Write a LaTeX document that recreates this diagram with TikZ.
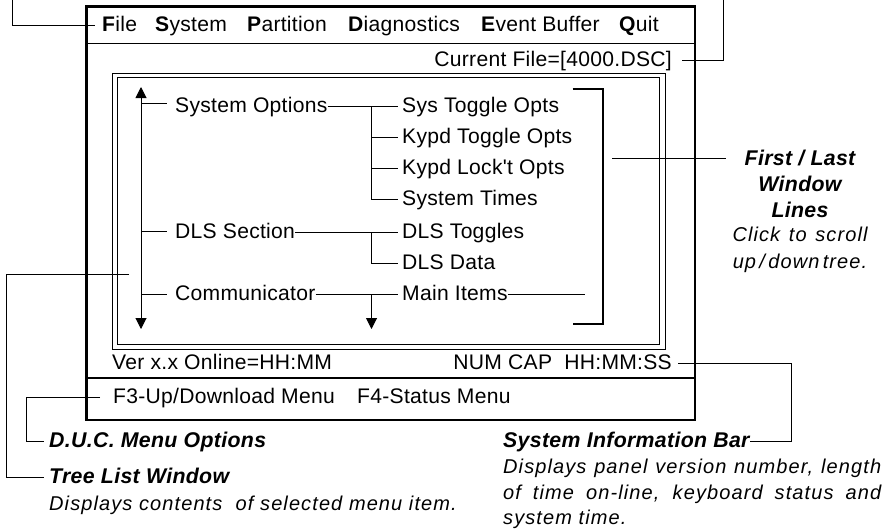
\documentclass[tikz,border=0pt]{standalone}
\usepackage{fontspec}
\usetikzlibrary{arrows.meta}
\setmainfont[LetterSpace=1.3]{Liberation Sans}
\newfontfamily\plainfont[LetterSpace=1.3]{Liberation Sans}
\newfontfamily\lblfont[LetterSpace=1.5,ItalicFont={Liberation Sans Bold Italic}]{Liberation Sans}
\newfontfamily\descfont[LetterSpace=5.5]{Liberation Sans Italic}
\tikzset{
  txt/.style={inner sep=0pt,text height=14pt,text depth=2pt,font=\fontsize{21.1}{24}\selectfont},
  lbl/.style={inner sep=0pt,text height=14pt,text depth=2pt,font=\fontsize{21.3}{24}\selectfont\lblfont\bfseries\itshape},
  desc/.style={inner sep=0pt,font=\fontsize{20}{25.5}\selectfont\descfont},
  conn/.style={line width=1pt,line cap=butt},
  frame/.style={line width=1pt},
  tip/.style={-{Triangle[length=11pt,width=11pt]}}
}
\begin{document}
\begin{tikzpicture}[x=1pt,y=-1pt]
\useasboundingbox (0,0) rectangle (890,528);
% frames
\draw[line width=2.4pt] (86.5,6.5) rectangle (695,419.7);
\draw[line width=1pt] (86.5,43) -- (695,43);
\draw[line width=1.2pt] (86.5,378) -- (695,378);
\draw[frame] (112.3,73.5) rectangle (665.5,349);
\draw[frame] (117.5,77.5) rectangle (659,344);
% menu
\node[txt,anchor=base west] (mfile) at (102,31) {\textbf{F}ile};
\node[txt,anchor=base west] (msys) at (155,31) {\textbf{S}ystem};
\node[txt,anchor=base west] (mpart) at (247,31) {\textbf{P}artition};
\node[txt,anchor=base west] (mdiag) at (348,31) {\textbf{D}iagnostics};
\node[txt,anchor=base west] (mevent) at (481,31) {\textbf{E}vent Buffer};
\node[txt,anchor=base west] (mquit) at (619,31) {\textbf{Q}uit};
\node[txt,anchor=base east] (curfile) at (672,66) {Current File=[4000.DSC]};
% tree
\node[txt,anchor=base west] (sysopt) at (175,112.5) {System Options};
\node[txt,anchor=base west] (sys1) at (402,112.5) {Sys Toggle Opts};
\node[txt,anchor=base west] (sys2) at (402,143.5) {Kypd Toggle Opts};
\node[txt,anchor=base west] (sys3) at (402,174.5) {\plainfont Kypd Lock't Opts};
\node[txt,anchor=base west] (sys4) at (402,205.5) {System Times};
\node[txt,anchor=base west] (dls) at (175,238) {DLS Section};
\node[txt,anchor=base west] (dls1) at (402,238) {DLS Toggles};
\node[txt,anchor=base west] (dls2) at (402,269.5) {DLS Data};
\node[txt,anchor=base west] (comm) at (175,300.5) {Communicator};
\node[txt,anchor=base west] (main) at (402,300.5) {Main Items};
% bars
\node[txt,anchor=base west] (ver) at (112,369) {Ver x.x Online=HH:MM};
\node[txt,anchor=base east] (numcap) at (672,369) {NUM CAP\ \ HH:MM:SS};
\node[txt,anchor=base west] (f3) at (113,403) {F3-Up/Download Menu};
\node[txt,anchor=base west] (f4) at (357,403) {F4-Status Menu};
% labels
\node[lbl,anchor=base west] (duc) at (49,447) {D.U.C. Menu Options};
\node[lbl,anchor=base west] (tree) at (49,483) {Tree List Window};
\node[desc,anchor=base west] (treed) at (49,510) {Displays contents\ \ of selected menu item.};
\node[lbl,anchor=base west] (info) at (503,447) {System Information Bar};
\node[desc,anchor=base west] (infoa) at (503,473) {\makebox[378pt][s]{Displays panel version number, length}};
\node[desc,anchor=base west] (infob) at (503,499) {\makebox[378pt][s]{of time on-line, keyboard status and}};
\node[desc,anchor=base west] (infoc) at (503,524) {system time.};
\node[lbl,anchor=base] (first) at (800,165) {First / Last};
\node[lbl,anchor=base] (window) at (800,191) {Window};
\node[lbl,anchor=base] (lines) at (800,217) {Lines};
\node[desc,anchor=base] (click) at (800,241) {\makebox[135pt][s]{Click to scroll}};
\node[desc,anchor=base] (updown) at (800,268) {up\,/\,down\,tree.};
% free ends
\coordinate (treetop) at (141,87);
\coordinate (treebot) at (141,329);
\coordinate (j1) at (371.5,106.5);
\coordinate (j2) at (371.5,232);
\coordinate (j3) at (371.5,294.5);
\coordinate (j3b) at (371.5,329);
\coordinate (bt) at (572.7,89);
\coordinate (bb) at (572.7,324);
\coordinate (bx) at (603,89);
\coordinate (fa) at (612,158.5);
\coordinate (fb) at (726,158.5);
\coordinate (tl) at (129,274.5);
\coordinate (a1) at (12,0);
\coordinate (a2) at (723,0);
% connectors
\draw[conn,tip] (141,200) -- (treetop);
\draw[conn,tip] (141,200) -- (treebot);
\draw[conn] (141,103.5) -- ([xshift=-8pt,yshift=3pt]sysopt.west);
\draw[conn] (141,231) -- ([xshift=-8pt,yshift=1pt]dls.west);
\draw[conn] (141,294.5) -- ([xshift=-8pt]comm.west);
\draw[conn] (sysopt.east) -- ([xshift=-4pt]sys1.west);
\draw[conn] (j1) |- ([xshift=-4pt]sys4.west);
\draw[conn] (j1 |- sys2.west) -- ([xshift=-4pt]sys2.west);
\draw[conn] (j1 |- sys3.west) -- ([xshift=-4pt]sys3.west);
\draw[conn] (dls.east) -- ([xshift=-4pt]dls1.west);
\draw[conn] (j2) |- ([xshift=-4pt]dls2.west);
\draw[conn] (comm.east) -- ([xshift=-4pt]main.west);
\draw[conn,tip] (j3) -- (j3b);
\draw[conn] (main.east) -- (585,294.5);
\draw[line width=1.2pt] (bt) -- (bx) |- (bb);
\draw[conn] (fa) -- (fb);
\draw[conn] (a1) |- ([xshift=-7pt]mfile.west);
\draw[conn] (a2) |- ([xshift=10pt]curfile.east);
\draw[conn] ([xshift=6pt]numcap.east) -| (791,441) -- (info.east);
\draw[conn] ([xshift=-13pt]f3.west) -| (26,441) -- ([xshift=-5pt]duc.west);
\draw[conn] (tl) -| (6.5,477) -- ([xshift=-5pt]tree.west);
\end{tikzpicture}
\end{document}
